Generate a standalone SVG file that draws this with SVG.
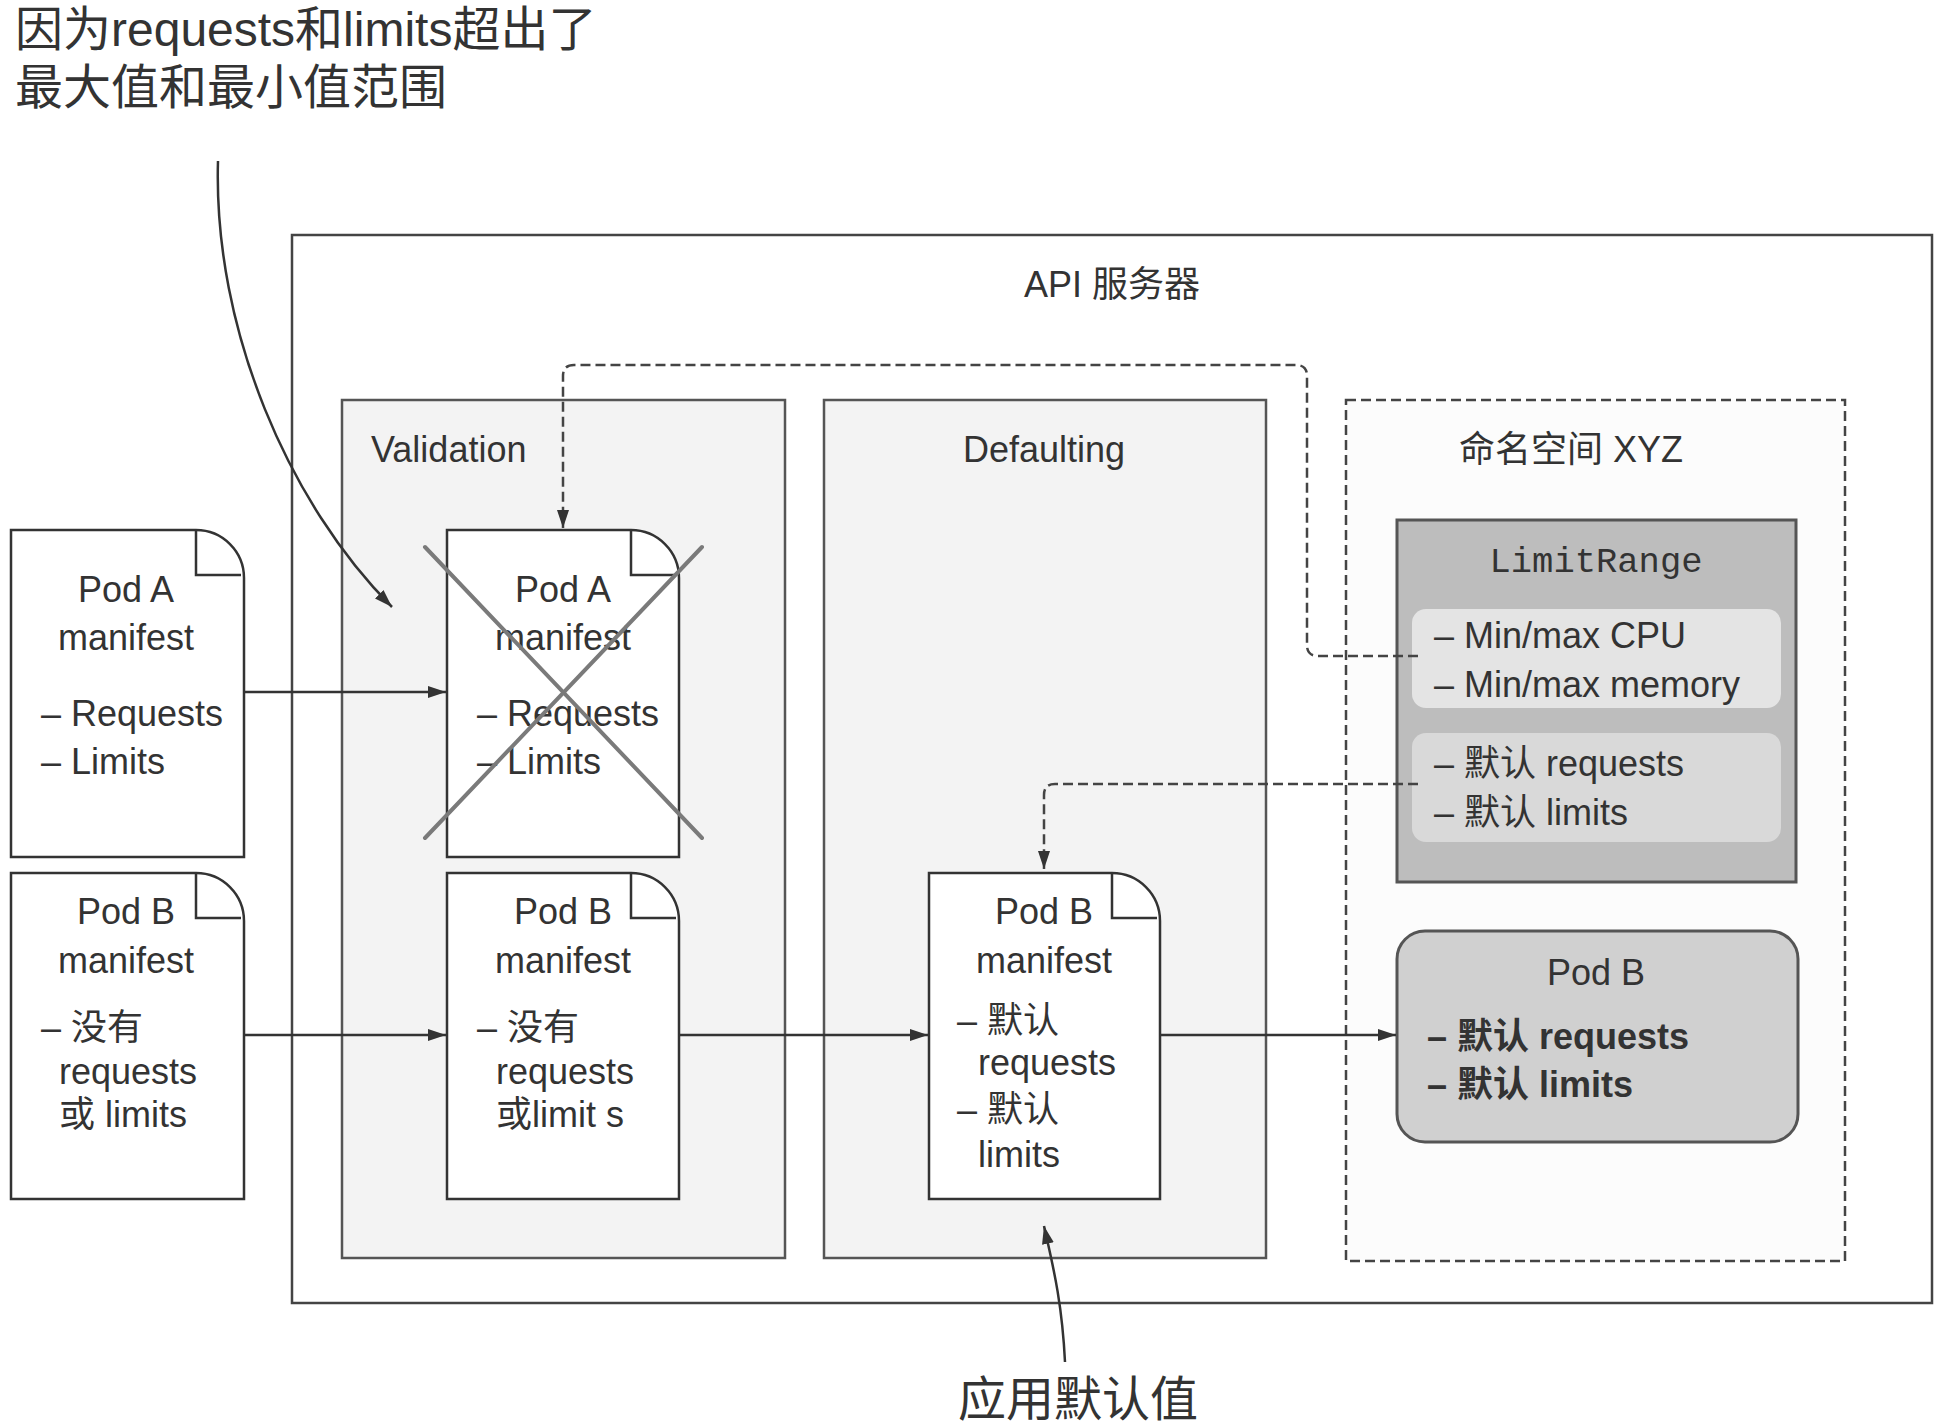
<svg xmlns="http://www.w3.org/2000/svg" width="1942" height="1428" viewBox="0 0 1942 1428">
<defs>
<marker id="arr" viewBox="0 0 18 12" refX="18" refY="6" markerWidth="18" markerHeight="12" markerUnits="userSpaceOnUse" orient="auto"><path d="M0,0 L18,6 L0,12 Z" fill="#333"/></marker>
<style>
.t{font-family:"Liberation Sans","Noto Sans CJK SC",sans-serif;fill:#333;font-size:36px}
.c{text-anchor:middle}
.big{font-size:48px}
.b{font-weight:bold}
.mono{font-family:"Liberation Mono",monospace;font-size:35.5px}
.doc{fill:#fff;stroke:#333;stroke-width:2.5}
.fold{fill:none;stroke:#333;stroke-width:2.5}
.ln{stroke:#333;stroke-width:2.5;fill:none}
.dash{stroke:#444;stroke-width:2.5;fill:none;stroke-dasharray:10 5}
.panel{fill:#f3f3f3;stroke:#555;stroke-width:2.5}
.cross{stroke:#7a7a7a;stroke-width:4;stroke-linecap:round}
</style>
</defs>
<rect width="1942" height="1428" fill="#fff"/>

<g id="annotation-top">
<text class="t big" x="15" y="46">因为requests和limits超出了</text>
<text class="t big" x="15" y="104">最大值和最小值范围</text>
</g>

<g id="api-server">
<rect x="292" y="235" width="1640" height="1068" fill="#fff" stroke="#444" stroke-width="2.5"/>
<text class="t c" x="1112" y="297" font-size="34">API 服务器</text>
</g>

<g id="validation">
<rect class="panel" x="342" y="400" width="443" height="858"/>
<text class="t" x="371" y="462">Validation</text>
</g>

<g id="defaulting">
<rect class="panel" x="824" y="400" width="442" height="858"/>
<text class="t c" x="1044" y="462">Defaulting</text>
</g>

<g id="namespace">
<rect x="1346" y="400" width="499" height="861" fill="#fcfcfc" stroke="#444" stroke-width="2.5" stroke-dasharray="10 5"/>
<text class="t c" x="1571" y="462">命名空间 XYZ</text>
</g>

<g id="limitrange">
<rect x="1397" y="520" width="399" height="362" fill="#bdbdbd" stroke="#555" stroke-width="3"/>
<rect x="1412" y="609" width="369" height="99" rx="14" fill="#e4e4e4"/>
<rect x="1412" y="733" width="369" height="109" rx="14" fill="#d9d9d9"/>
<text class="t mono c" x="1596" y="572">LimitRange</text>
<text class="t" x="1434" y="648">– Min/max CPU</text>
<text class="t" x="1434" y="697">– Min/max memory</text>
<text class="t" x="1434" y="776">– 默认 requests</text>
<text class="t" x="1434" y="825">– 默认 limits</text>
</g>

<g id="podb-result">
<rect x="1397" y="931" width="401" height="211" rx="28" fill="#d0d0d0" stroke="#555" stroke-width="3"/>
<text class="t c" x="1596" y="985">Pod B</text>
<text class="t b" x="1427" y="1049">– 默认 requests</text>
<text class="t b" x="1427" y="1097">– 默认 limits</text>
</g>

<g id="poda-left">
<path class="doc" d="M11,530 H196 A48,48 0 0 1 244,578 V857 H11 Z"/>
<path class="fold" d="M196,530 V575 H241"/>
<text class="t c" x="126" y="602">Pod A</text>
<text class="t c" x="126" y="650">manifest</text>
<text class="t" x="41" y="726">– Requests</text>
<text class="t" x="41" y="774">– Limits</text>
</g>

<g id="podb-left">
<path class="doc" d="M11,873 H196 A48,48 0 0 1 244,921 V1199 H11 Z"/>
<path class="fold" d="M196,873 V918 H241"/>
<text class="t c" x="126" y="924">Pod B</text>
<text class="t c" x="126" y="973">manifest</text>
<text class="t" x="41" y="1040">– 没有</text>
<text class="t" x="59" y="1084">requests</text>
<text class="t" x="59" y="1127">或 limits</text>
</g>

<g id="poda-validation">
<path class="doc" d="M447,530 H631 A48,48 0 0 1 679,578 V857 H447 Z"/>
<path class="fold" d="M631,530 V575 H676"/>
<text class="t c" x="563" y="602">Pod A</text>
<text class="t c" x="563" y="650">manifest</text>
<text class="t" x="477" y="726">– Requests</text>
<text class="t" x="477" y="774">– Limits</text>
<line class="cross" x1="425" y1="547" x2="702" y2="838"/>
<line class="cross" x1="425" y1="838" x2="702" y2="547"/>
</g>

<g id="podb-validation">
<path class="doc" d="M447,873 H631 A48,48 0 0 1 679,921 V1199 H447 Z"/>
<path class="fold" d="M631,873 V918 H676"/>
<text class="t c" x="563" y="924">Pod B</text>
<text class="t c" x="563" y="973">manifest</text>
<text class="t" x="477" y="1040">– 没有</text>
<text class="t" x="496" y="1084">requests</text>
<text class="t" x="496" y="1127">或limit s</text>
</g>

<g id="podb-defaulting">
<path class="doc" d="M929,873 H1112 A48,48 0 0 1 1160,921 V1199 H929 Z"/>
<path class="fold" d="M1112,873 V918 H1157"/>
<text class="t c" x="1044" y="924">Pod B</text>
<text class="t c" x="1044" y="973">manifest</text>
<text class="t" x="957" y="1033">– 默认</text>
<text class="t" x="978" y="1075">requests</text>
<text class="t" x="957" y="1122">– 默认</text>
<text class="t" x="978" y="1167">limits</text>
</g>

<g id="annotation-bottom">
<text class="t c big" x="1078" y="1416">应用默认值</text>
</g>

<g id="connectors">
<line class="ln" x1="244" y1="692" x2="446" y2="692" marker-end="url(#arr)"/>
<line class="ln" x1="244" y1="1035" x2="446" y2="1035" marker-end="url(#arr)"/>
<line class="ln" x1="679" y1="1035" x2="928" y2="1035" marker-end="url(#arr)"/>
<line class="ln" x1="1160" y1="1035" x2="1396" y2="1035" marker-end="url(#arr)"/>
<path class="dash" d="M1418,656 H1318 Q1307,656 1307,645 V376 Q1307,365 1296,365 H574 Q563,365 563,376 V528" marker-end="url(#arr)"/>
<path class="dash" d="M1418,784 H1055 Q1044,784 1044,795 V869" marker-end="url(#arr)"/>
<path class="ln" stroke-width="2" d="M218,161 C213,330 290,505 392,607" marker-end="url(#arr)"/>
<path class="ln" stroke-width="2" d="M1065,1362 C1062,1300 1052,1262 1044,1226" marker-end="url(#arr)"/>
</g>
</svg>
